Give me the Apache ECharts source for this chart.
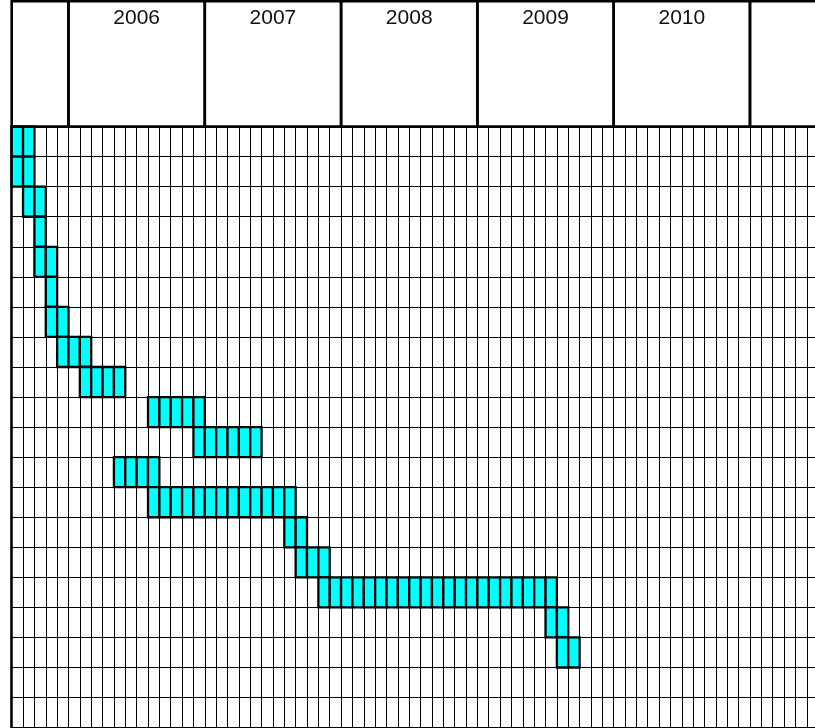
<!DOCTYPE html>
<html>
<head>
<meta charset="utf-8">
<style>html,body{margin:0;padding:0;background:#fff;overflow:hidden}#chart{width:840px;height:728px}</style>
<script src="https://cdn.jsdelivr.net/npm/echarts@6/dist/echarts.min.js"></script>
</head>
<body>
<div id="chart"></div>
<script>
// Month categories (Aug 2005 onwards)
const firstMonth = [2005, 8];
const monthCount = 71;
// Tasks (rows), start month and duration in months
const taskNames = ['Task 1','Task 2','Task 3','Task 4','Task 5','Task 6','Task 7','Task 8','Task 9','Task 10',
  'Task 11','Task 12','Task 13','Task 14','Task 15','Task 16','Task 17','Task 18','Task 19','Task 20'];
const taskStart = ['2005-08','2005-08','2005-09','2005-10','2005-10','2005-11','2005-11','2005-12','2006-02','2006-08',
  '2006-12','2006-05','2006-08','2007-08','2007-09','2007-11','2009-07','2009-08'];
const taskMonths = [2,2,2,1,2,1,2,3,4,5,6,4,13,2,3,21,2,2];
// Header year labels
const yearLabels = ['2006','2007','2008','2009','2010'];

const months = [];
for (let i = 0; i < monthCount; i++) {
  const t = firstMonth[0] * 12 + (firstMonth[1] - 1) + i;
  const y = Math.floor(t / 12), m = t % 12 + 1;
  months.push(y + '-' + (m < 10 ? '0' + m : m));
}
const cellData = [];
taskStart.forEach((s, r) => {
  const idx = months.indexOf(s);
  for (let k = 0; k < taskMonths[r]; k++) cellData.push([idx + k, r]);
});
// year boxes in header
const years = [];
months.forEach((mo, i) => {
  const y = mo.slice(0, 4);
  if (!years.length || years[years.length - 1].year !== y) years.push({year: y, start: i, end: i + 1});
  else years[years.length - 1].end = i + 1;
});
years[years.length - 1].end = years[years.length - 1].start + 12;
const headerData = years.map(y => [y.start, y.end, yearLabels.indexOf(y.year) >= 0 ? y.year : '']);

const colW = 11.358, gridLeft = 11.7;
const gridW = colW * monthCount;
const rowH = 30.05, gridTop = 126.6;

const chart = echarts.init(document.getElementById('chart'));
chart.setOption({
  animation: false,
  grid: [
    {left: gridLeft, top: 1.3, width: gridW, height: gridTop - 1.3, show: false},
    {left: gridLeft, top: gridTop, width: gridW, height: rowH * taskNames.length, show: false}
  ],
  xAxis: [
    {gridIndex: 0, type: 'value', min: 0, max: monthCount, show: false},
    {gridIndex: 1, type: 'category', data: months, boundaryGap: true,
      axisLine: {show: false}, axisTick: {show: false, interval: 0}, axisLabel: {show: false, interval: 0},
      splitLine: {show: true, interval: 0, lineStyle: {color: '#000', width: 1}}}
  ],
  yAxis: [
    {gridIndex: 0, type: 'value', min: 0, max: 1, show: false},
    {gridIndex: 1, type: 'category', data: taskNames, inverse: true, boundaryGap: true,
      axisLine: {show: true, lineStyle: {color: '#000', width: 2.6}},
      axisTick: {show: false, interval: 0}, axisLabel: {show: false, interval: 0},
      splitLine: {show: true, interval: 0, lineStyle: {color: '#000', width: 1}}}
  ],
  series: [
    {
      type: 'custom', xAxisIndex: 1, yAxisIndex: 1, data: cellData, z: 5,
      renderItem: function (params, api) {
        const c = api.coord([api.value(0), api.value(1)]);
        const s = api.size([1, 1]);
        return {type: 'rect', shape: {x: c[0] - s[0] / 2, y: c[1] - s[1] / 2, width: s[0], height: s[1]},
          style: {fill: '#00FFFF', stroke: '#000', lineWidth: 2.3}};
      }
    },
    {
      type: 'custom', xAxisIndex: 0, yAxisIndex: 0, data: headerData, z: 6,
      renderItem: function (params, api) {
        const p0 = api.coord([api.value(0), 1]);
        const p1 = api.coord([api.value(1), 0]);
        const label = headerData[params.dataIndex][2];
        return {type: 'group', children: [
          {type: 'rect', shape: {x: p0[0], y: p0[1], width: p1[0] - p0[0], height: p1[1] - p0[1]},
            style: {fill: 'none', stroke: '#000', lineWidth: 2.6}},
          {type: 'text', style: {text: label, x: (p0[0] + p1[0]) / 2, y: 18.5, align: 'center', verticalAlign: 'middle',
            font: '21px "Liberation Sans", Arial, sans-serif', fill: '#111'}}
        ]};
      }
    }
  ]
});
</script>
</body>
</html>
